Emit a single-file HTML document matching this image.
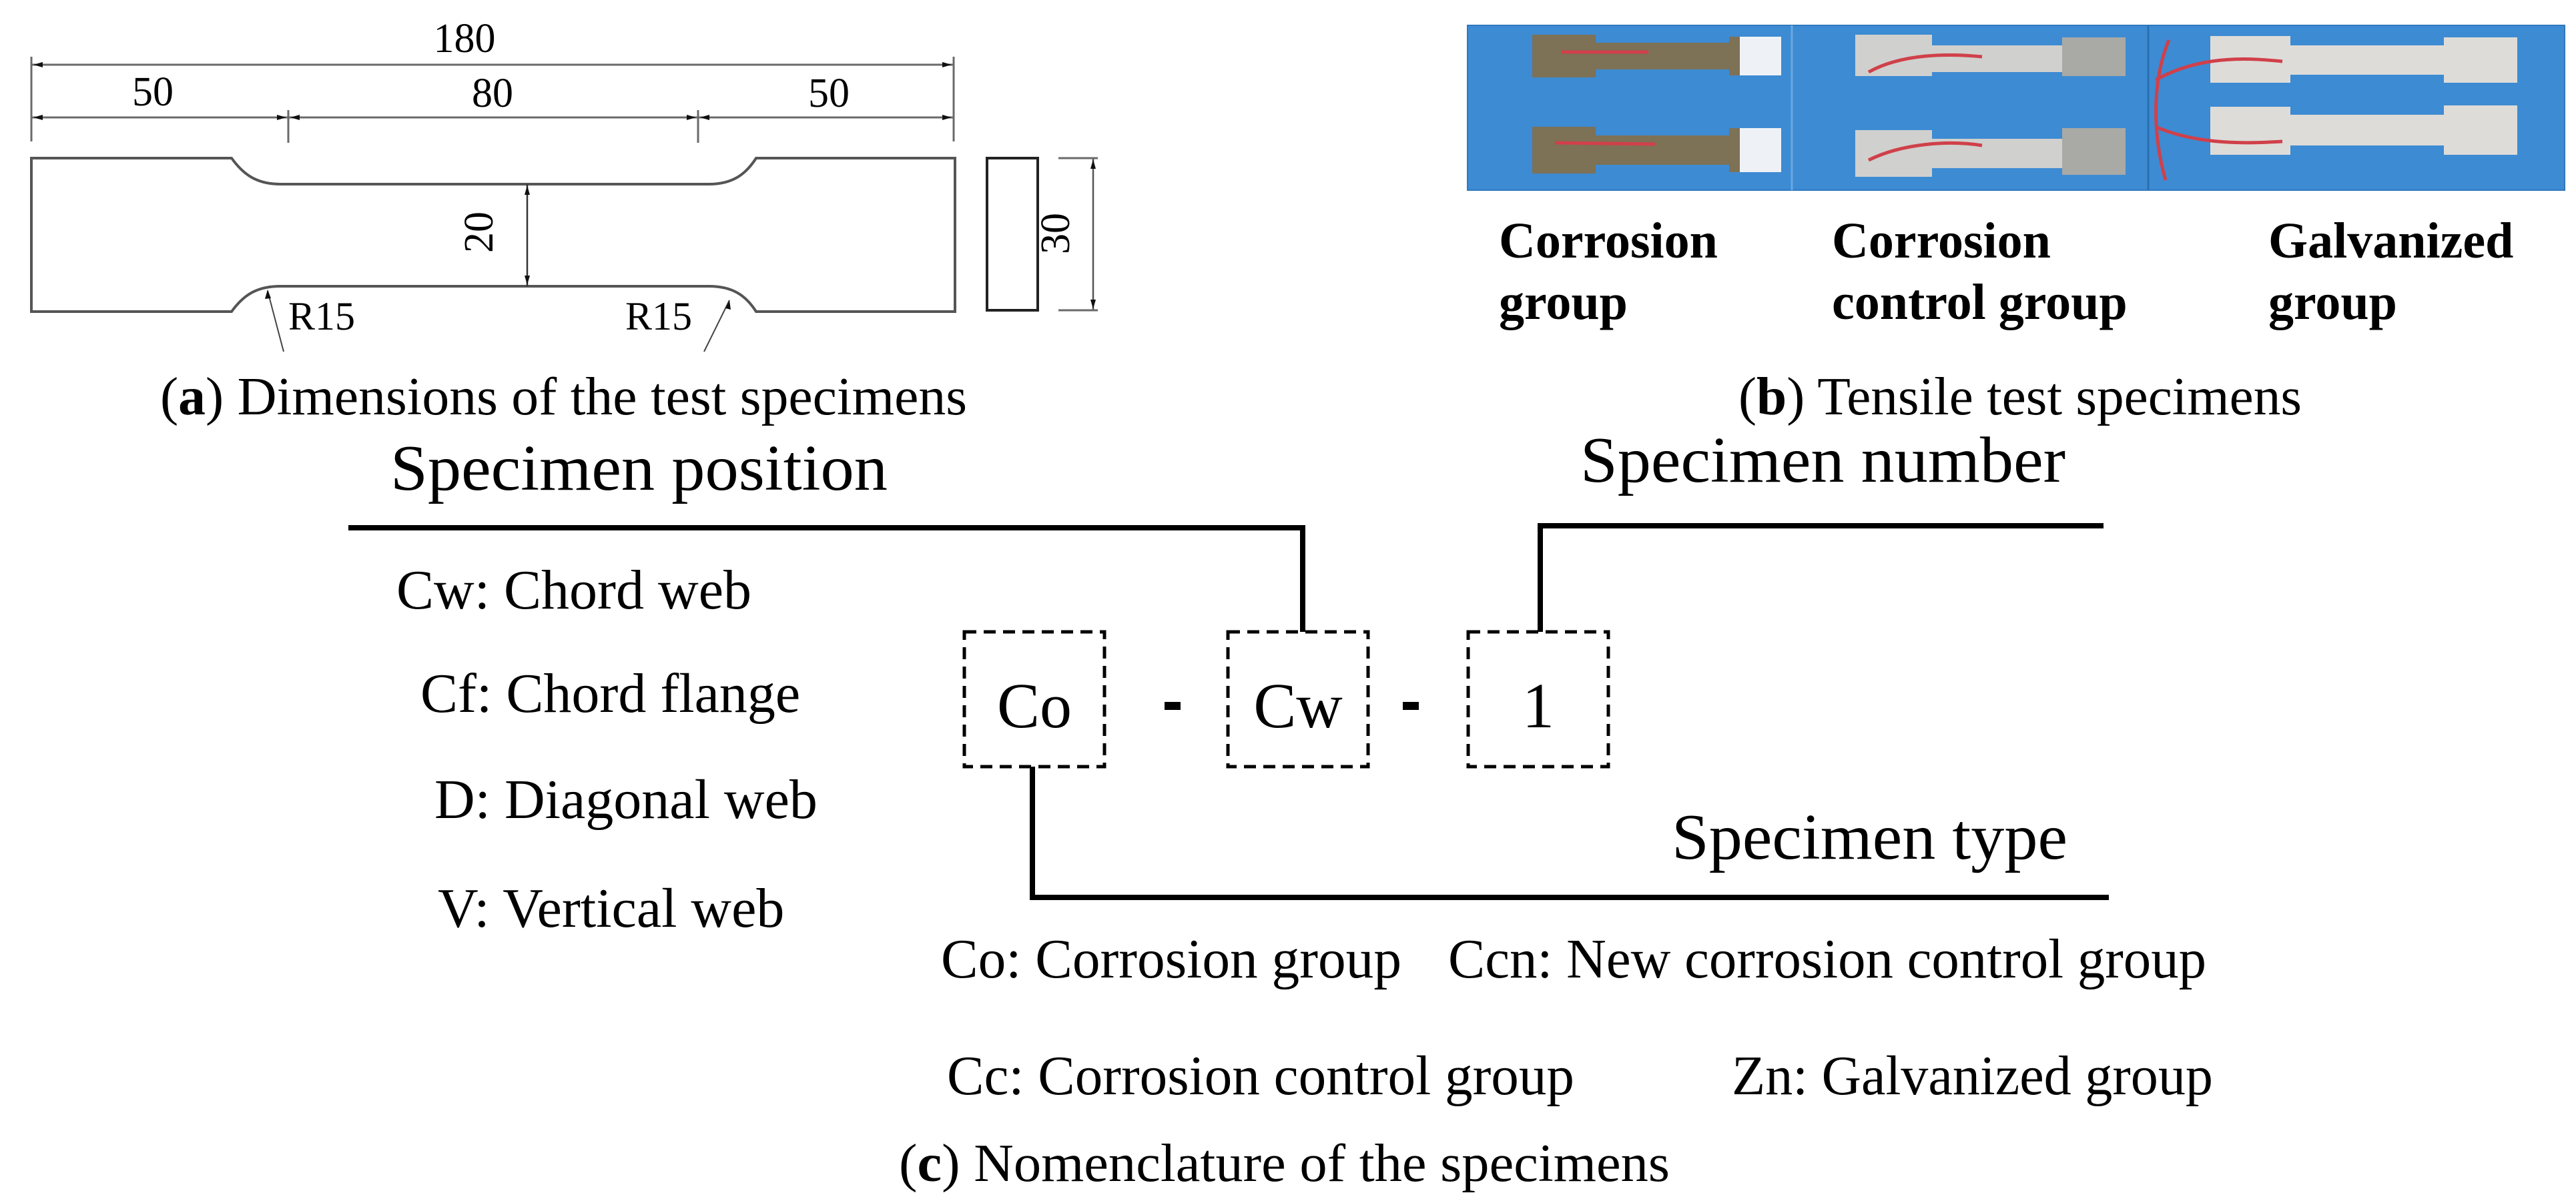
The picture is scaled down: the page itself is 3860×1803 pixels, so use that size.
<!DOCTYPE html>
<html><head><meta charset="utf-8"><style>
html,body{margin:0;padding:0;background:#fff;}
svg{display:block;}
text{font-family:"Liberation Serif",serif;fill:#000;}
</style></head><body>
<svg width="3860" height="1803" viewBox="0 0 3860 1803" xmlns="http://www.w3.org/2000/svg">
<!-- (a) drawing -->
<g stroke="#6a6a6a" stroke-width="3" fill="none">
  <line x1="47" y1="97" x2="1429" y2="97"/>
  <line x1="47" y1="176" x2="1429" y2="176"/>
  <line x1="47" y1="85" x2="47" y2="212"/>
  <line x1="1429" y1="85" x2="1429" y2="212"/>
  <line x1="432" y1="165" x2="432" y2="214"/>
  <line x1="1046" y1="165" x2="1046" y2="214"/>
  <path d="M47,237 L347,237 C365,262 385,276 420,276 L1062,276 C1097,276 1117,262 1133,237 L1431,237 L1431,467 L1133,467 C1117,442 1097,429 1062,429 L420,429 C385,429 365,442 347,467 L47,467 Z" stroke="#555" stroke-width="4"/>
  <line x1="790" y1="276" x2="790" y2="429" stroke="#333" stroke-width="2.5"/>
  <rect x="1479" y="237" width="76" height="228" stroke="#222" stroke-width="4"/>
  <line x1="1638" y1="237" x2="1638" y2="465" stroke="#555" stroke-width="2.5"/>
  <line x1="1586" y1="237" x2="1645" y2="237"/>
  <line x1="1586" y1="465" x2="1645" y2="465"/>
  <line x1="425" y1="527" x2="401" y2="436" stroke="#444" stroke-width="2"/>
  <line x1="1055" y1="527" x2="1093" y2="450" stroke="#444" stroke-width="2"/>
</g>
<g fill="#111">
  <polygon points="50,97 64,93 64,101"/>
  <polygon points="1426,97 1412,93 1412,101"/>
  <polygon points="50,176 64,172 64,180"/>
  <polygon points="429,176 415,172 415,180"/>
  <polygon points="435,176 449,172 449,180"/>
  <polygon points="1043,176 1029,172 1029,180"/>
  <polygon points="1049,176 1063,172 1063,180"/>
  <polygon points="1426,176 1412,172 1412,180"/>
  <polygon points="790,278 786,292 794,292"/>
  <polygon points="790,427 786,413 794,413"/>
  <polygon points="1638,239 1634,253 1642,253"/>
  <polygon points="1638,463 1634,449 1642,449"/>
  <polygon points="401,434 397,448 406,447"/>
  <polygon points="1093,450 1087,462 1095,464"/>
</g>
<g font-size="62" text-anchor="middle">
  <text x="696" y="78">180</text>
  <text x="229" y="158">50</text>
  <text x="738" y="160">80</text>
  <text x="1242" y="160">50</text>
  <text transform="translate(738,348) rotate(-90)">20</text>
  <text transform="translate(1602,350) rotate(-90)">30</text>
</g>
<g font-size="60">
  <text x="432" y="494">R15</text>
  <text x="937" y="494">R15</text>
</g>
<text x="240" y="621" font-size="80" textLength="1209" lengthAdjust="spacingAndGlyphs">(<tspan font-weight="bold">a</tspan>) Dimensions of the test specimens</text>

<!-- (b) photo -->
<rect x="2199" y="38" width="1644" height="247" fill="#3d8bd3"/>
<rect x="2199" y="38" width="1644" height="247" fill="none" stroke="#2f78be" stroke-width="2"/>
<line x1="2685" y1="38" x2="2685" y2="285" stroke="#6aa8e0" stroke-width="3"/>
<line x1="3219" y1="38" x2="3219" y2="285" stroke="#2a6fb0" stroke-width="3"/>
<g fill="#7d7156">
  <rect x="2296" y="52" width="95" height="64"/><rect x="2391" y="64" width="200" height="40"/><rect x="2591" y="55" width="16" height="58"/>
  <rect x="2296" y="190" width="95" height="70"/><rect x="2391" y="203" width="200" height="44"/><rect x="2591" y="192" width="16" height="66"/>
</g>
<rect x="2607" y="55" width="62" height="58" fill="#eef2f6"/>
<rect x="2607" y="192" width="62" height="66" fill="#eef2f6"/>
<line x1="2340" y1="78" x2="2470" y2="78" stroke="#d0404a" stroke-width="5"/>
<line x1="2330" y1="214" x2="2480" y2="216" stroke="#d0404a" stroke-width="5"/>
<g fill="#d0d0ce">
  <rect x="2780" y="52" width="115" height="62"/><rect x="2895" y="68" width="195" height="40"/><rect x="3090" y="56" width="95" height="58" fill="#a9a9a6"/>
  <rect x="2780" y="195" width="115" height="70"/><rect x="2895" y="208" width="195" height="44"/><rect x="3090" y="192" width="95" height="70" fill="#a9a9a6"/>
</g>
<path d="M2800,108 C2850,80 2920,80 2970,85 M2800,240 C2850,215 2920,210 2970,218" stroke="#d0404a" stroke-width="5" fill="none"/>
<g fill="#dedcd8">
  <rect x="3312" y="54" width="120" height="70"/><rect x="3432" y="68" width="230" height="44"/><rect x="3662" y="56" width="110" height="68"/>
  <rect x="3312" y="160" width="120" height="72"/><rect x="3432" y="172" width="230" height="46"/><rect x="3662" y="158" width="110" height="74"/>
</g>
<path d="M3230,120 C3300,80 3380,88 3420,92 M3230,190 C3300,220 3380,214 3420,212 M3250,60 C3225,120 3225,200 3245,270" stroke="#d0404a" stroke-width="5" fill="none"/>
<g font-size="76" font-weight="bold">
  <text x="2246" y="386">Corrosion</text><text x="2246" y="478">group</text>
  <text x="2745" y="386">Corrosion</text><text x="2745" y="478">control group</text>
  <text x="3399" y="386">Galvanized</text><text x="3399" y="478">group</text>
</g>
<text x="2605" y="621" font-size="80" textLength="844" lengthAdjust="spacingAndGlyphs">(<tspan font-weight="bold">b</tspan>) Tensile test specimens</text>

<!-- (c) nomenclature -->
<g stroke="#000" stroke-width="8" fill="none">
  <polyline points="522,791 1952,791 1952,947"/>
  <polyline points="2308,947 2308,788 3152,788"/>
  <polyline points="1547,1149 1547,1345 3160,1345"/>
</g>
<g stroke="#000" stroke-width="5" fill="none" stroke-dasharray="18,11">
  <rect x="1445" y="947" width="210" height="202"/>
  <rect x="1840" y="947" width="210" height="202"/>
  <rect x="2200" y="947" width="210" height="202"/>
</g>
<rect x="1745" y="1052" width="24" height="12" fill="#000"/>
<rect x="2102" y="1052" width="24" height="12" fill="#000"/>
<g font-size="96" text-anchor="middle">
  <text x="1550" y="1090">Co</text>
  <text x="1945" y="1090">Cw</text>
  <text x="2305" y="1090">1</text>
</g>
<g font-size="98">
  <text x="585" y="734" textLength="745" lengthAdjust="spacingAndGlyphs">Specimen position</text>
  <text x="2368" y="722" textLength="727" lengthAdjust="spacingAndGlyphs">Specimen number</text>
  <text x="2505" y="1287" textLength="593" lengthAdjust="spacingAndGlyphs">Specimen type</text>
</g>
<g font-size="84">
  <text x="594" y="912">Cw: Chord web</text>
  <text x="630" y="1067">Cf: Chord flange</text>
  <text x="651" y="1226">D: Diagonal web</text>
  <text x="656" y="1389">V: Vertical web</text>
  <text x="1410" y="1465" textLength="690" lengthAdjust="spacingAndGlyphs">Co: Corrosion group</text>
  <text x="2170" y="1465" textLength="1136" lengthAdjust="spacingAndGlyphs">Ccn: New corrosion control group</text>
  <text x="1419" y="1640" textLength="940" lengthAdjust="spacingAndGlyphs">Cc: Corrosion control group</text>
  <text x="2595" y="1640" textLength="721" lengthAdjust="spacingAndGlyphs">Zn: Galvanized group</text>
</g>
<text x="1347" y="1770" font-size="80" textLength="1155" lengthAdjust="spacingAndGlyphs">(<tspan font-weight="bold">c</tspan>) Nomenclature of the specimens</text>
</svg>
</body></html>
